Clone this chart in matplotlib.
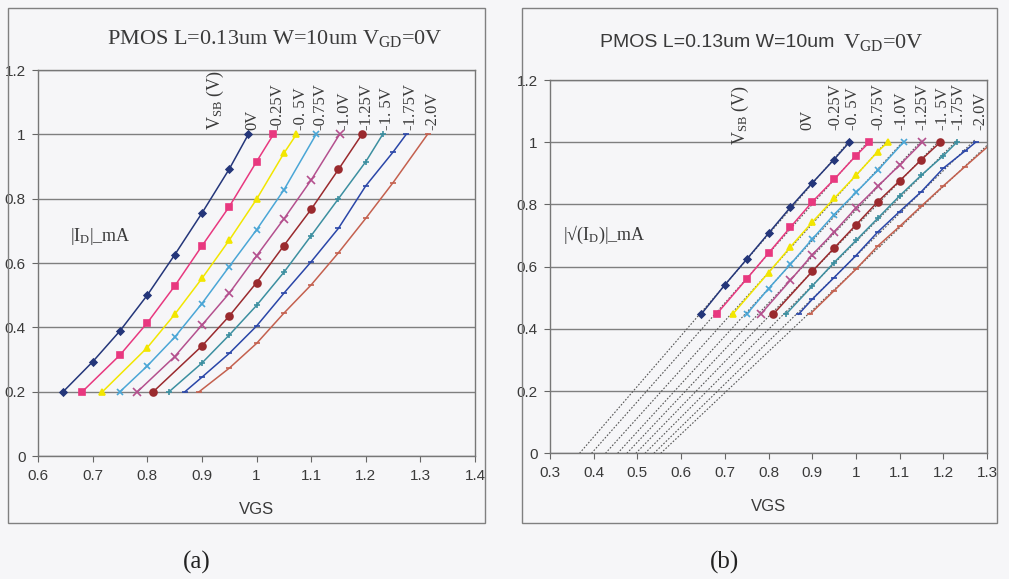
import matplotlib
matplotlib.use('Agg')
import matplotlib.pyplot as plt
from matplotlib.patches import Rectangle
import numpy as np

plt.rcParams['mathtext.fontset'] = 'custom'
plt.rcParams['mathtext.rm'] = 'Liberation Serif'
plt.rcParams['mathtext.it'] = 'Liberation Serif:italic'

# ---- data: VGS (V) and |ID| (mA) per VSB curve ----
vsb_labels = ['0V', '-0.25V', '-0. 5V', '-0.75V', '-1.0V', '-1.25V', '-1. 5V', '-1.75V', '-2.0V']

vgs_0 = [0.646, 0.70, 0.75, 0.80, 0.85, 0.90, 0.95, 0.985]
id_0 = [0.20, 0.293, 0.389, 0.500, 0.625, 0.755, 0.892, 1.0]

vgs_025 = [0.681, 0.75, 0.80, 0.85, 0.90, 0.95, 1.00, 1.031]
id_025 = [0.20, 0.314, 0.414, 0.528, 0.653, 0.775, 0.915, 1.0]

vgs_05 = [0.718, 0.80, 0.85, 0.90, 0.95, 1.00, 1.05, 1.073]
id_05 = [0.20, 0.337, 0.440, 0.552, 0.671, 0.798, 0.941, 1.0]

vgs_075 = [0.750, 0.80, 0.85, 0.90, 0.95, 1.00, 1.05, 1.109]
id_075 = [0.20, 0.280, 0.369, 0.474, 0.589, 0.703, 0.827, 1.0]

vgs_10 = [0.782, 0.85, 0.90, 0.95, 1.00, 1.05, 1.10, 1.152]
id_10 = [0.20, 0.309, 0.407, 0.506, 0.622, 0.737, 0.858, 1.0]

vgs_125 = [0.811, 0.90, 0.95, 1.00, 1.05, 1.10, 1.15, 1.193]
id_125 = [0.20, 0.342, 0.435, 0.539, 0.654, 0.767, 0.891, 1.0]

vgs_15 = [0.840, 0.90, 0.95, 1.00, 1.05, 1.10, 1.15, 1.20, 1.231]
id_15 = [0.20, 0.289, 0.376, 0.468, 0.571, 0.685, 0.800, 0.915, 1.0]

vgs_175 = [0.869, 0.90, 0.95, 1.00, 1.05, 1.10, 1.15, 1.20, 1.25, 1.274]
id_175 = [0.20, 0.245, 0.319, 0.404, 0.506, 0.604, 0.708, 0.840, 0.945, 1.0]

vgs_20 = [0.895, 0.95, 1.00, 1.05, 1.10, 1.15, 1.20, 1.25, 1.313]
id_20 = [0.20, 0.273, 0.350, 0.444, 0.532, 0.632, 0.739, 0.850, 1.0]

vgs_all = [vgs_0, vgs_025, vgs_05, vgs_075, vgs_10, vgs_125, vgs_15, vgs_175, vgs_20]
id_all = [id_0, id_025, id_05, id_075, id_10, id_125, id_15, id_175, id_20]

# x positions of the rotated VSB labels in panel (b)
rlab_x = [0.888, 0.952, 0.993, 1.051, 1.105, 1.151, 1.199, 1.234, 1.284]

# ---- styles ----
cores = ['#24367a', '#e8387f', '#f2e600', '#4aa6d6', '#b4508e',
         '#9a2a2e', '#3c8fa0', '#2a46a8', '#c4604e']
marcadores = ['D', 's', '^', 'x', 'x', 'o', '+', '_', '_']
tamanhos = [3.5, 5, 5, 5, 5.5, 5, 5, 4, 4]

bg = '#f6f6f8'
serif = 'Liberation Serif'
sans = 'Liberation Sans'
texto = '#3a3a3a'

fig = plt.figure(figsize=(10.09, 5.79), dpi=100, facecolor=bg)

# moldura dos dois graficos
for x0, w in [(0.0079, 0.4727), (0.5173, 0.4708)]:
    fig.patches.append(Rectangle((x0, 0.0967), w, 0.889, transform=fig.transFigure,
                                 fill=False, edgecolor='#808080', lw=1.0))

ax1 = fig.add_axes([0.0377, 0.2124, 0.4331, 0.6667])
ax2 = fig.add_axes([0.5451, 0.2171, 0.4331, 0.6447])


def estilo_eixo(ax, xmin, xmax):
    ax.set_facecolor(bg)
    ax.set_xlim(xmin, xmax)
    ax.set_ylim(0, 1.2)
    ax.set_xticks(np.round(np.arange(xmin, xmax + 0.001, 0.1), 1))
    ax.set_yticks([0, 0.2, 0.4, 0.6, 0.8, 1, 1.2])
    ax.xaxis.set_major_formatter(plt.FuncFormatter(lambda v, p: f'{v:g}'))
    ax.yaxis.set_major_formatter(plt.FuncFormatter(lambda v, p: f'{v:g}'))
    for lab in ax.get_xticklabels() + ax.get_yticklabels():
        lab.set_family(sans)
        lab.set_fontsize(11)
        lab.set_color(texto)
    ax.tick_params(direction='out', length=4, color='#666666', pad=5)
    ax.grid(axis='y', color='#7f7f7f', lw=1.0)
    ax.set_axisbelow(True)
    for s in ax.spines.values():
        s.set_color('#777777')
        s.set_linewidth(1.0)
    ax.set_xlabel('VGS', family=sans, fontsize=12, color=texto, labelpad=14)


estilo_eixo(ax1, 0.6, 1.4)
estilo_eixo(ax2, 0.3, 1.3)

# ---- (a) |ID| vs VGS ----
for vg, idd, c, m, ms in zip(vgs_all, id_all, cores, marcadores, tamanhos):
    ax1.plot(vg, idd, color=c, lw=1.1, marker=m, ms=ms, mew=1.2)

for vg, lab in zip(vgs_all, vsb_labels):
    ax1.text(vg[-1] + 0.008, 1.015, lab, rotation=90, ha='center', va='bottom',
             family=serif, fontsize=12, color=texto)
ax1.text(0.924, 1.013, r'V$_{\rm SB}$ (V)', rotation=90, ha='center', va='bottom',
         family=serif, fontsize=13, color=texto)
ax1.text(0.659, 0.681, r'|I$_{\rm D}$|_mA', ha='left', va='center',
         family=serif, fontsize=13, color=texto)

# ---- (b) sqrt(|ID|) vs VGS com retas de tendencia ----
for vg, idd, c, m, ms in zip(vgs_all, id_all, cores, marcadores, tamanhos):
    vg = np.array(vg)
    raiz = np.sqrt(idd)
    a, b = np.polyfit(vg, raiz, 1)
    xt = np.array([-b / a, vg[-1]])
    ax2.plot(xt, a * xt + b, color='#555555', lw=0.8, ls=(0, (1.5, 1.5)))
    ax2.plot(vg, raiz, color=c, lw=1.1, marker=m, ms=ms, mew=1.2)

for x, lab in zip(rlab_x, vsb_labels):
    ax2.text(x, 1.04, lab, rotation=90, ha='center', va='bottom',
             family=serif, fontsize=12, color=texto)
ax2.text(0.735, 0.99, r'V$_{\rm SB}$ (V)', rotation=90, ha='center', va='bottom',
         family=serif, fontsize=13, color=texto)
ax2.text(0.330, 0.702, r'|√(I$_{\rm D}$)|_mA', ha='left', va='center',
         family=serif, fontsize=13, color=texto)

# ---- titulos e legendas (a)/(b) ----
fig.text(0.2725, 0.934, r'PMOS L=0.13um W=10um V$_{\rm GD}$=0V', ha='center', va='center',
         family=serif, fontsize=16, color=texto)
fig.text(0.832, 0.926, 'PMOS L=0.13um W=10um ', ha='right', va='center',
         family=sans, fontsize=14, color=texto)
fig.text(0.835, 0.926, r'V$_{\rm GD}$=0V', ha='left', va='center',
         family=serif, fontsize=16, color=texto)

fig.text(0.195, 0.029, '(a)', ha='center', va='center', family=serif, fontsize=18, color='#222222')
fig.text(0.718, 0.029, '(b)', ha='center', va='center', family=serif, fontsize=18, color='#222222')

plt.savefig('out.png', dpi=100, facecolor=bg)
plt.close()
